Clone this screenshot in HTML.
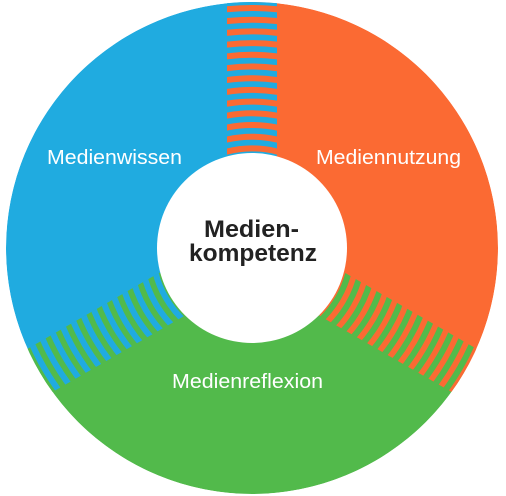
<!DOCTYPE html>
<html><head><style>
html,body{margin:0;padding:0;background:#fff;overflow:hidden;}
svg{display:block;}
</style></head><body>
<svg width="506" height="496" viewBox="0 0 506 496" xmlns="http://www.w3.org/2000/svg">
<defs>
<clipPath id="band" clipPathUnits="userSpaceOnUse"><rect x="227" y="2" width="50" height="154"/></clipPath>
<clipPath id="disc" clipPathUnits="userSpaceOnUse"><circle cx="252" cy="248" r="246"/></clipPath>
<g id="rings">
<circle cx="252" cy="248" r="240" /><circle cx="252" cy="248" r="228.3"/><circle cx="252" cy="248" r="216.6"/>
<circle cx="252" cy="248" r="204.9"/><circle cx="252" cy="248" r="193.2"/><circle cx="252" cy="248" r="181.5"/>
<circle cx="252" cy="248" r="169.8"/><circle cx="252" cy="248" r="158.1"/><circle cx="252" cy="248" r="146.4"/>
<circle cx="252" cy="248" r="134.7"/><circle cx="252" cy="248" r="123"/><circle cx="252" cy="248" r="111.3"/>
<circle cx="252" cy="248" r="99.6"/>
</g>
</defs>
<g clip-path="url(#disc)">
<path d="M252 248 L252 2 A246 246 0 0 1 465.04 371 Z" fill="#fb6a33"/>
<path d="M252 248 L465.04 371 A246 246 0 0 1 38.96 371 Z" fill="#52ba4b"/>
<path d="M252 248 L38.96 371 A246 246 0 0 1 252 2 Z" fill="#20abe0"/>
<g><g clip-path="url(#band)">
<rect x="227" y="0" width="50" height="160" fill="#20abe0"/>
<use href="#rings" fill="none" stroke="#fb6a33" stroke-width="6"/>
</g></g>
<g transform="rotate(120 252 248)"><g clip-path="url(#band)">
<rect x="227" y="0" width="50" height="160" fill="#fb6a33"/>
<use href="#rings" fill="none" stroke="#52ba4b" stroke-width="6"/>
</g></g>
<g transform="rotate(240 252 248)"><g clip-path="url(#band)">
<rect x="227" y="0" width="50" height="160" fill="#52ba4b"/>
<use href="#rings" fill="none" stroke="#20abe0" stroke-width="6"/>
</g></g>
</g>
<circle cx="252" cy="248" r="95" fill="#fff"/>
<g font-family="Liberation Sans, Arial, sans-serif" fill="#fff" font-size="20">
<text x="47" y="164" textLength="135" lengthAdjust="spacingAndGlyphs">Medienwissen</text>
<text x="316" y="164" textLength="145" lengthAdjust="spacingAndGlyphs">Mediennutzung</text>
<text x="172" y="388" textLength="151" lengthAdjust="spacingAndGlyphs">Medienreflexion</text>
</g>
<g font-family="Liberation Sans, Arial, sans-serif" fill="#222" font-size="24" font-weight="bold">
<text x="204" y="237" textLength="95" lengthAdjust="spacingAndGlyphs">Medien-</text>
<text x="189" y="261" textLength="128" lengthAdjust="spacingAndGlyphs">kompetenz</text>
</g>
</svg>
</body></html>
